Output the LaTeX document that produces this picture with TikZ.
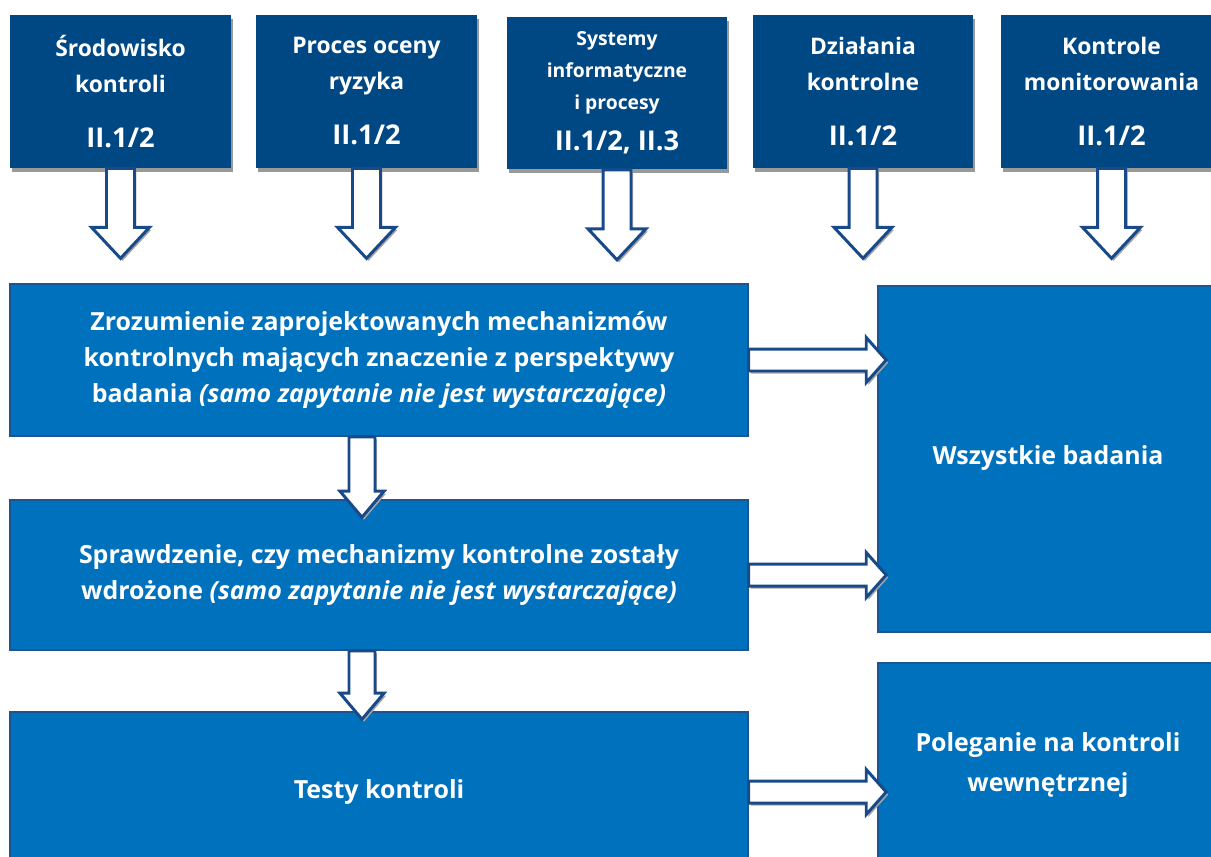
\documentclass[tikz,border=0pt]{standalone}
\usepackage{fontspec}
\setmainfont{Open Sans}
\usetikzlibrary{calc,shadows}
\definecolor{topblue}{RGB}{0,72,132}
\definecolor{midblue}{RGB}{0,113,188}
\definecolor{edgeblue}{RGB}{30,84,146}
\definecolor{arrowblue}{RGB}{24,74,138}
\tikzset{
  topbox/.style={fill=topblue, text=white, align=center, inner sep=0pt,
    font=\bfseries\fontsize{13}{20.4}\selectfont,
    minimum width=4.42cm, minimum height=3.06cm,
    drop shadow={shadow xshift=0.04cm, shadow yshift=-0.08cm, fill=black!40, opacity=1}},
  midbox/.style={fill=midblue, draw=edgeblue, line width=0.9pt, text=white, align=center,
    inner sep=0pt, font=\bfseries\fontsize{14.2}{20.3}\selectfont},
  fat/.style n args={3}{draw=arrowblue, fill=white, line width=1.7pt,
    drop shadow={shadow xshift=0.04cm, shadow yshift=-0.05cm, fill=black!35, opacity=1},
    to path={
      ($(\tikztostart)!#1!90:(\tikztotarget)$)
      -- ($($(\tikztotarget)!#3!(\tikztostart)$)!#1!90:(\tikztotarget)$)
      -- ($($(\tikztotarget)!#3!(\tikztostart)$)!#2!90:(\tikztotarget)$)
      -- (\tikztotarget)
      -- ($($(\tikztotarget)!#3!(\tikztostart)$)!#2!-90:(\tikztotarget)$)
      -- ($($(\tikztotarget)!#3!(\tikztostart)$)!#1!-90:(\tikztotarget)$)
      -- ($(\tikztostart)!#1!-90:(\tikztotarget)$)
      -- cycle}}
}
\newcommand{\secnum}[1]{{\fontsize{15.5}{18}\selectfont #1}}

\begin{document}
\begin{tikzpicture}[x=0.02cm, y=-0.02cm]
\useasboundingbox (0,0) rectangle (1211,856);

% top row
\node[topbox] (top1) at (120.5,91.5) {Środowisko\\kontroli\\[11pt]\secnum{II.1/2}};
\node[topbox] (top2) at (366.5,91.5) {Proces oceny\\ryzyka\\[11pt]\secnum{II.1/2}};
\node[topbox, font=\bfseries\fontsize{11}{18.3}\selectfont] (top3) at (617,93)
  {Systemy\\informatyczne\\i procesy\\[5pt]\secnum{II.1/2, II.3}};
\node[topbox] (top4) at (863,91.5) {Działania\\kontrolne\\[11pt]\secnum{II.1/2}};
\node[topbox] (top5) at (1111.5,91.5) {Kontrole\\monitorowania\\[11pt]\secnum{II.1/2}};

% steps
\node[midbox, minimum width=14.76cm, minimum height=3.04cm] (midA) at (379,360)
  {Zrozumienie zaprojektowanych mechanizmów\\kontrolnych mających znaczenie z perspektywy\\badania \textit{(samo zapytanie nie jest wystarczające)}};
\node[midbox, minimum width=14.76cm, minimum height=3.0cm] (midB) at (379,575)
  {Sprawdzenie, czy mechanizmy kontrolne zostały\\wdrożone \textit{(samo zapytanie nie jest wystarczające)}};
\node[midbox, minimum width=14.76cm, minimum height=3.2cm] (midC) at (379,792) {Testy kontroli};

% outcomes
\node[midbox, minimum width=6.8cm, minimum height=6.92cm] (right1) at (1048,459)
  {\raisebox{5pt}{Wszystkie badania}};
\node[midbox, minimum width=6.8cm, minimum height=4.08cm, font=\bfseries\fontsize{14.2}{22.6}\selectfont]
  (right2) at (1048,765) {Poleganie na kontroli\\wewnętrznej};

% arrow ends
\foreach \i in {1,...,5}
  \coordinate (d\i) at ($(top\i.south)+(0,90)$);
\coordinate (a1) at ($(midA.south)+(-17,0)$);
\coordinate (b1) at ($(a1 |- midB.north)+(0,18)$);
\coordinate (a2) at ($(midB.south)+(-17,0)$);
\coordinate (b2) at ($(a2 |- midC.north)+(0,8)$);
\coordinate (e1) at ($(midA.east -| right1.west)+(9,0)$);
\coordinate (e2) at ($(midB.east -| right1.west)+(9,0)$);
\coordinate (e3) at ($(midC.east -| right2.west)+(9,0)$);

\foreach \i in {1,...,5}
  \draw[fat={0.28cm}{0.58cm}{0.62cm}] (top\i.south) to (d\i);
\draw[fat={0.26cm}{0.44cm}{0.52cm}] (a1) to (b1);
\draw[fat={0.26cm}{0.44cm}{0.52cm}] (a2) to (b2);
\draw[fat={0.22cm}{0.45cm}{0.40cm}] (midA.east) to (e1);
\draw[fat={0.22cm}{0.45cm}{0.40cm}] (midB.east) to (e2);
\draw[fat={0.22cm}{0.45cm}{0.40cm}] (midC.east) to (e3);
\end{tikzpicture}
\end{document}
